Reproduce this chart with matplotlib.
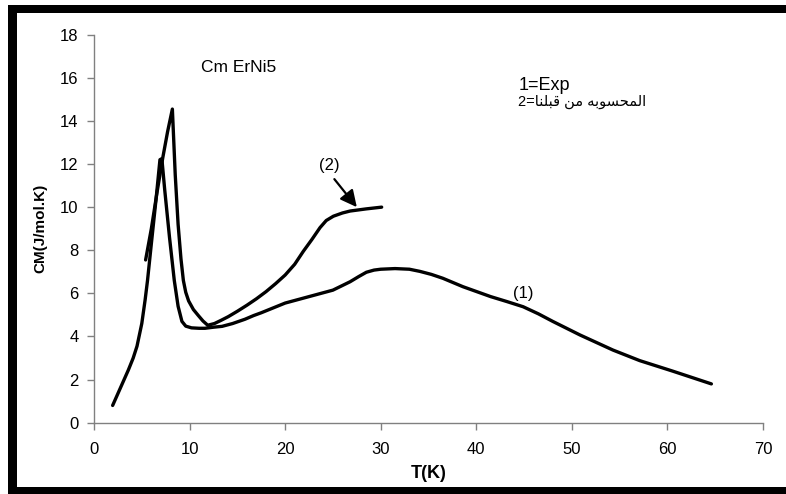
import matplotlib
matplotlib.use("Agg")
import matplotlib.pyplot as plt
from matplotlib.patches import Rectangle

plt.rcParams['font.family'] = ['Liberation Sans', 'DejaVu Sans']

# Experimental specific heat (curve 1)
t_exp = [1.95, 2.8, 3.6, 4.1, 4.5, 5.0, 5.35, 5.6, 6.0, 6.5, 6.9, 7.1, 7.4, 7.9,
         8.4, 8.8, 9.2, 9.6, 10.2, 11.0, 11.6, 12.5, 13.4, 14.5, 15.8, 16.7, 17.5,
         20.0, 22.5, 25.0, 26.8, 27.7, 28.5, 29.3, 30.0, 31.5, 33.0, 34.1, 35.3,
         36.5, 38.6, 41.5, 43.2, 44.9, 46.5, 48.0, 50.85, 54.3, 57.1, 60.5, 64.6]
cm_exp = [0.8, 1.65, 2.45, 3.0, 3.55, 4.6, 5.7, 6.6, 8.3, 10.4, 12.2, 12.25, 10.8, 8.6,
          6.6, 5.4, 4.7, 4.48, 4.4, 4.38, 4.38, 4.43, 4.47, 4.6, 4.8, 4.97, 5.1,
          5.55, 5.85, 6.15, 6.54, 6.78, 6.98, 7.08, 7.12, 7.15, 7.12, 7.02, 6.88,
          6.7, 6.31, 5.85, 5.62, 5.38, 5.05, 4.7, 4.07, 3.37, 2.88, 2.4, 1.8]

# Calculated specific heat (curve 2)
t_calc = [5.4, 6.0, 6.6, 7.2, 7.7, 8.2, 8.5, 8.8, 9.1, 9.35, 9.6, 9.9, 10.4, 10.9,
          11.4, 11.9, 12.6, 13.3, 14.05, 15.0, 16.0, 17.0, 18.0, 19.0, 20.0, 21.0,
          21.9, 22.8, 23.65, 24.3, 25.05, 26.0, 26.8, 28.5, 30.1]
cm_calc = [7.55, 9.0, 10.7, 12.3, 13.5, 14.55, 11.5, 9.2, 7.6, 6.6, 6.05, 5.65, 5.25, 4.98,
           4.72, 4.52, 4.6, 4.75, 4.92, 5.17, 5.45, 5.75, 6.08, 6.45, 6.85, 7.35,
           7.95, 8.5, 9.05, 9.38, 9.58, 9.73, 9.82, 9.92, 10.0]

x_ticks = [0, 10, 20, 30, 40, 50, 60, 70]
y_ticks = [0, 2, 4, 6, 8, 10, 12, 14, 16, 18]

# Arabic caption written in visual (presentation-form) order
calc_label = ("2=" + "\uFE8E\uFEE8\uFEE0\uFE92\uFED7" + " " + "\uFEE6\uFEE3" + " "
              + "\uFEEA\uFE91\uFEEE\uFEB4\uFEA4\uFEE4\uFEDF\uFE8D")

W, H = 786, 494
fig = plt.figure(figsize=(W / 100, H / 100), dpi=100)
ax = fig.add_axes([94 / W, (H - 422.7) / H, (763 - 94) / W, (422.7 - 34.7) / H])

ax.plot(t_exp, cm_exp, color='black', lw=2.4, solid_joinstyle='round', solid_capstyle='round')
ax.plot(t_calc, cm_calc, color='black', lw=2.4, solid_joinstyle='round', solid_capstyle='round')

ax.set_xlim(0, 70)
ax.set_ylim(0, 18)
ax.set_xticks(x_ticks)
ax.set_yticks(y_ticks)
for side in ('top', 'right'):
    ax.spines[side].set_visible(False)
for side in ('left', 'bottom'):
    ax.spines[side].set_color('#808080')
    ax.spines[side].set_linewidth(1.0)
ax.tick_params(axis='both', direction='out', length=5, width=1.0, color='#808080',
               labelsize=12)
ax.tick_params(axis='y', pad=6)
ax.tick_params(axis='x', pad=9)

ax.set_xlabel('T(K)', fontsize=13, fontweight='bold', labelpad=6)
ax.set_ylabel('CM(J/mol.K)', fontsize=11, fontweight='bold', labelpad=9)

ax.text(15.1, 16.5, 'Cm ErNi5', fontsize=12.5, ha='center', va='center')
ax.text(44.4, 15.66, '1=Exp', fontsize=13, ha='left', va='center')
ax.text(44.4, 14.9, calc_label, fontsize=10.5, ha='left', va='center')
ax.text(24.6, 11.92, '(2)', fontsize=12, ha='center', va='center')
ax.text(44.9, 6.0, '(1)', fontsize=12, ha='center', va='center')
ax.annotate('', xy=(27.5, 10.0), xytext=(25.15, 11.3),
            arrowprops=dict(arrowstyle='-|>,head_length=1.0,head_width=0.5',
                            color='black', lw=1.6, shrinkA=0, shrinkB=0))

# Thick black page frame
def frame(x0, y0, x1, y1):
    fig.add_artist(Rectangle((x0 / W, 1 - y1 / H), (x1 - x0) / W, (y1 - y0) / H,
                             transform=fig.transFigure, facecolor='black',
                             edgecolor='none'))

frame(8, 5, 17, H)
frame(8, 5, W, 13)
frame(8, 487, W, H)

fig.savefig('out.png', dpi=100)
